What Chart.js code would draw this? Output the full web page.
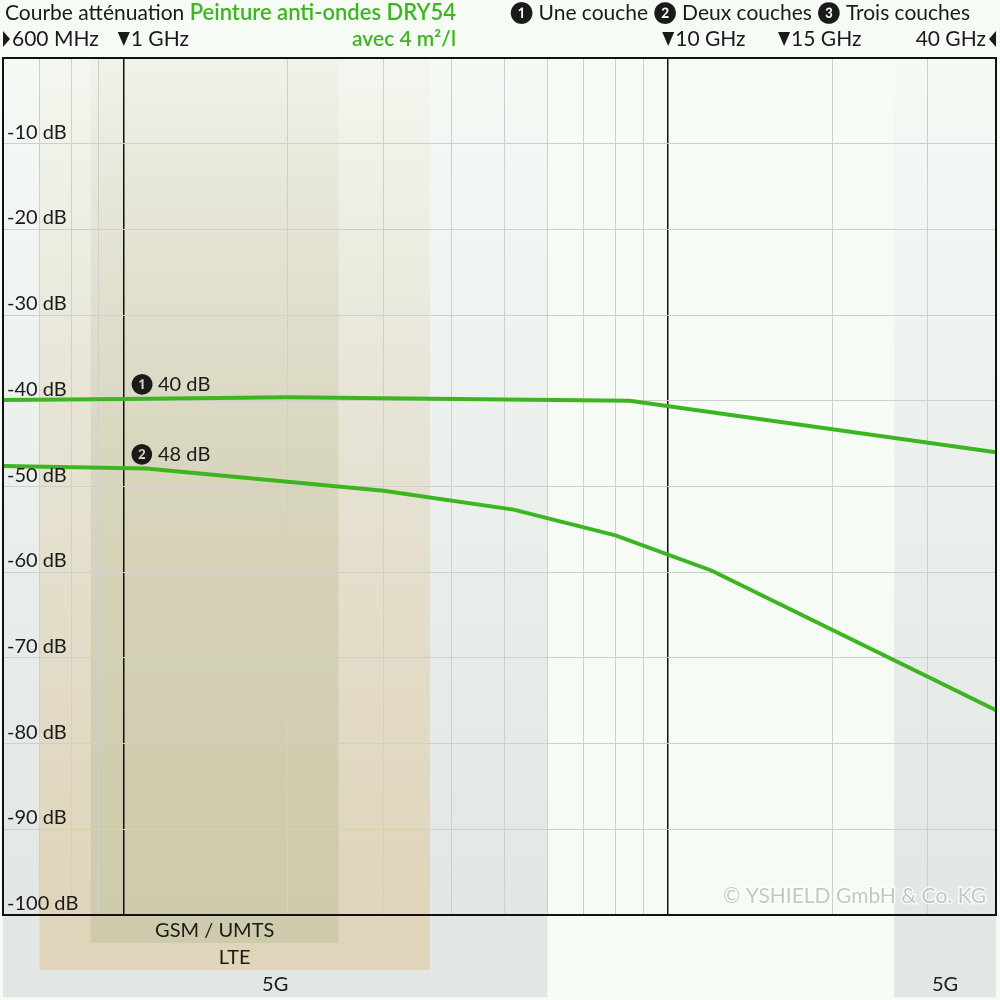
<!DOCTYPE html>
<html>
<head>
<meta charset="utf-8">
<script src="https://cdn.jsdelivr.net/npm/chart.js@4.4.0/dist/chart.umd.min.js"></script>
<style>
  html, body { margin: 0; padding: 0; background: #f7fbf6; }
  #wrap { width: 1000px; height: 1000px; position: relative; }
</style>
</head>
<body>
<div id="wrap"><canvas id="chart"></canvas></div>
<script>
// frequency in GHz, attenuation in dB
const freqOne = [0.6, 1, 2, 3, 8.5, 40];
const dbOne = [-39.9, -39.8, -39.6, -39.7, -40.0, -46.0];
const freqTwo = [0.6, 1.1, 3, 5.2, 8, 12, 40];
const dbTwo = [-47.6, -47.9, -50.5, -52.7, -55.7, -59.8, -76.1];

const gridFreqs = [0.6, 0.7, 0.8, 0.9, 1, 2, 3, 4, 5, 6, 7, 8, 9, 10, 20, 30, 40];
const markedFreqs = [1, 10];
const topLabels = ['600 MHz', '1 GHz', '10 GHz', '15 GHz', '40 GHz'];
const topLabelFreqs = [0.6, 1, 10, 15, 40];
const dbTicks = [-10, -20, -30, -40, -50, -60, -70, -80, -90, -100];

const bandNames = ['5G', 'LTE', 'GSM / UMTS', '5G'];
const bandFrom = [0.6, 0.7, 0.87, 26];
const bandTo = [6, 3.65, 2.48, 40];

const noteLabels = ['\u2776 40 dB', '\u2777 48 dB'];
const noteValues = [-39.8, -47.9];

// band look: rgb and how far the band hangs below the plot
const bandColor = [[226, 230, 228], [224, 213, 186], [205, 203, 172], [226, 230, 228]];
const bandDepth = [82, 55, 28, 82];

const FONT = "Lato, 'DejaVu Sans', sans-serif";
const GREEN = '#3cb521';

const bandPlugin = {
  id: 'bands',
  beforeDraw(chart) {
    const { ctx, chartArea: a, scales: { x } } = chart;
    ctx.save();
    ctx.fillStyle = '#f7fbf6';
    ctx.fillRect(0, 0, chart.width, chart.height);
    bandFrom.forEach((f, i) => {
      const x0 = x.getPixelForValue(f);
      const x1 = x.getPixelForValue(bandTo[i]);
      const [r, g, b] = bandColor[i];
      const grad = ctx.createLinearGradient(0, a.top, 0, a.bottom);
      grad.addColorStop(0, `rgba(${r},${g},${b},0.08)`);
      grad.addColorStop(1, `rgba(${r},${g},${b},1)`);
      ctx.fillStyle = grad;
      ctx.fillRect(x0, a.top, x1 - x0, a.bottom - a.top);
      ctx.fillStyle = `rgb(${r},${g},${b})`;
      ctx.fillRect(x0, a.bottom, x1 - x0, bandDepth[i]);
    });
    ctx.restore();
  },
  afterDraw(chart) {
    const { ctx, chartArea: a, scales: { x, y } } = chart;
    ctx.save();

    // frame
    ctx.strokeStyle = '#111';
    ctx.lineWidth = 2;
    ctx.strokeRect(a.left, a.top, a.right - a.left, a.bottom - a.top);

    // dB labels inside the plot
    ctx.font = `20px ${FONT}`;
    ctx.fillStyle = '#1a1a1a';
    ctx.textAlign = 'left';
    ctx.textBaseline = 'alphabetic';
    dbTicks.forEach(v => {
      ctx.fillText(`${v} dB`, a.left + 4, y.getPixelForValue(v) - 5);
    });

    // notes on the curves
    noteLabels.forEach((t, i) => {
      ctx.fillText(t, x.getPixelForValue(1) + 7, y.getPixelForValue(noteValues[i]) - 8);
    });

    // band names under the plot
    ctx.textAlign = 'center';
    bandNames.forEach((t, i) => {
      const cx = (x.getPixelForValue(bandFrom[i]) + x.getPixelForValue(bandTo[i])) / 2;
      ctx.fillText(t, cx, a.bottom + bandDepth[i] - 6);
    });

    // copyright
    ctx.font = `21px ${FONT}`;
    ctx.textAlign = 'right';
    ctx.lineWidth = 3;
    ctx.strokeStyle = 'rgba(255,255,255,0.8)';
    ctx.strokeText('\u00a9 YSHIELD GmbH & Co. KG', a.right - 10, a.bottom - 12);
    ctx.fillStyle = '#c3c8c5';
    ctx.fillText('\u00a9 YSHIELD GmbH & Co. KG', a.right - 10, a.bottom - 12);

    // title
    ctx.font = `21px ${FONT}`;
    ctx.textAlign = 'left';
    ctx.fillStyle = '#1a1a1a';
    const t1 = 'Courbe att\u00e9nuation ';
    ctx.fillText(t1, 5, 20);
    const w1 = ctx.measureText(t1).width;
    ctx.font = `600 22px ${FONT}`;
    ctx.fillStyle = GREEN;
    ctx.fillText('Peinture anti-ondes DRY54', 5 + w1, 20);
    const w2 = ctx.measureText('Peinture anti-ondes DRY54').width;
    ctx.font = `600 21px ${FONT}`;
    ctx.textAlign = 'right';
    ctx.fillText('avec 4 m\u00b2/l', 5 + w1 + w2, 46);

    // legend
    ctx.font = `21px ${FONT}`;
    ctx.fillStyle = '#1a1a1a';
    ctx.fillText('\u2776 Une couche \u2777 Deux couches \u2778 Trois couches', 970, 20);

    // frequency marks above the plot
    const base = 46;
    topLabelFreqs.forEach((f, i) => {
      const px = x.getPixelForValue(f);
      ctx.fillStyle = '#1a1a1a';
      if (i === 0) {
        ctx.beginPath();
        ctx.moveTo(px, base - 15); ctx.lineTo(px + 7, base - 7); ctx.lineTo(px, base + 1);
        ctx.closePath(); ctx.fill();
        ctx.textAlign = 'left';
        ctx.fillText(topLabels[i], px + 9, base);
      } else if (i === topLabelFreqs.length - 1) {
        ctx.beginPath();
        ctx.moveTo(px, base - 15); ctx.lineTo(px - 7, base - 7); ctx.lineTo(px, base + 1);
        ctx.closePath(); ctx.fill();
        ctx.textAlign = 'right';
        ctx.fillText(topLabels[i], px - 10, base);
      } else {
        const cx = f === 15 ? px + 20 : px;
        ctx.beginPath();
        ctx.moveTo(cx - 6, base - 14); ctx.lineTo(cx + 6, base - 14); ctx.lineTo(cx, base);
        ctx.closePath(); ctx.fill();
        ctx.textAlign = 'left';
        ctx.fillText(topLabels[i], cx + 7, base);
      }
    });

    ctx.restore();
  }
};

const ctx = document.getElementById('chart').getContext('2d');
new Chart(ctx, {
  type: 'line',
  data: {
    datasets: [
      {
        label: 'Une couche',
        data: freqOne.map((f, i) => ({ x: f, y: dbOne[i] })),
        borderColor: GREEN,
        borderWidth: 4,
        pointRadius: 0,
        tension: 0
      },
      {
        label: 'Deux couches',
        data: freqTwo.map((f, i) => ({ x: f, y: dbTwo[i] })),
        borderColor: GREEN,
        borderWidth: 4,
        pointRadius: 0,
        tension: 0
      }
    ]
  },
  options: {
    responsive: true,
    maintainAspectRatio: false,
    animation: false,
    devicePixelRatio: 1,
    layout: { padding: { top: 58, left: 3, right: 4, bottom: 85 } },
    plugins: { legend: { display: false }, tooltip: { enabled: false } },
    scales: {
      x: {
        type: 'logarithmic',
        min: 0.6,
        max: 40,
        afterBuildTicks: s => { s.ticks = gridFreqs.map(v => ({ value: v })); },
        ticks: { display: false },
        border: { display: false },
        grid: {
          drawTicks: false,
          color: c => markedFreqs.includes(c.tick && c.tick.value) ? '#111' : '#cdd0cd',
          lineWidth: c => markedFreqs.includes(c.tick && c.tick.value) ? 1.5 : 1
        }
      },
      y: {
        min: -100,
        max: 0,
        ticks: { display: false, stepSize: 10 },
        border: { display: false },
        grid: { drawTicks: false, color: '#cdd0cd', lineWidth: 1 }
      }
    }
  },
  plugins: [bandPlugin]
});
</script>
</body>
</html>
